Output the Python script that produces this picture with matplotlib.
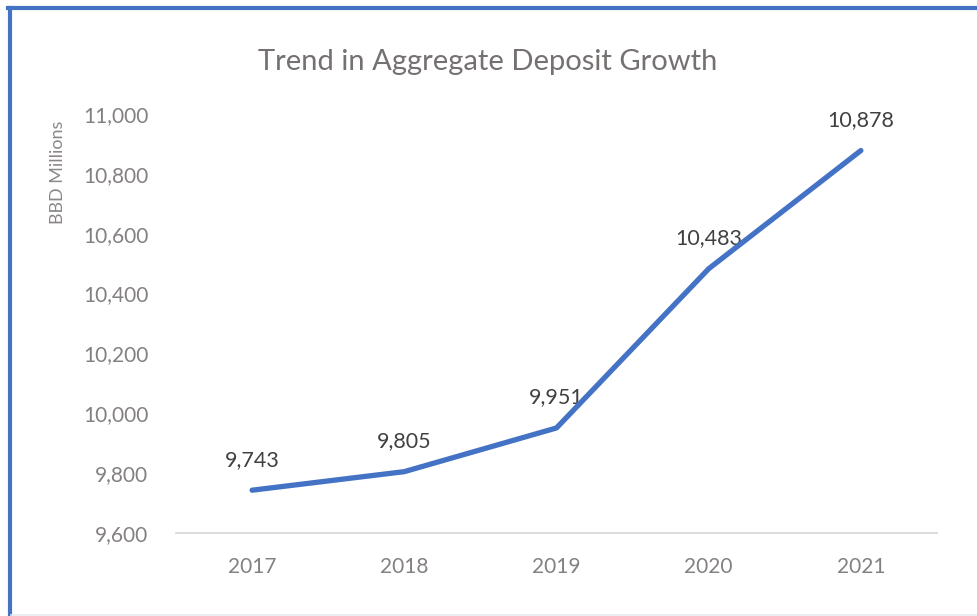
import matplotlib
matplotlib.use("Agg")
import matplotlib.pyplot as plt
from matplotlib.lines import Line2D
from matplotlib.ticker import FuncFormatter

years = ["2017", "2018", "2019", "2020", "2021"]
deposits = [9743, 9805, 9951, 10483, 10878]
yticks = [9600, 9800, 10000, 10200, 10400, 10600, 10800, 11000]

plt.rcParams['font.family'] = ['Lato', 'DejaVu Sans']

W, H = 977, 616
fig = plt.figure(figsize=(W / 100, H / 100), dpi=100)
fig.patch.set_facecolor('white')

ax = fig.add_axes([176 / W, 1 - 533 / H, (937 - 176) / W, (533 - 114) / H])
x = list(range(len(years)))
ax.plot(x, deposits, color='#4472C4', lw=3.8, solid_capstyle='round',
        solid_joinstyle='round', zorder=5)
for xi, v in zip(x, deposits):
    ax.annotate(f"{v:,}", (xi, v), xytext=(0, 22), textcoords='offset points',
                ha='center', va='center', fontsize=15.5, color='#404040', zorder=3)

ax.set_xlim(-0.5, len(years) - 0.5)
ax.set_ylim(9600, 11000)
ax.set_xticks(x)
ax.set_xticklabels(years)
ax.set_yticks(yticks)
ax.yaxis.set_major_formatter(FuncFormatter(lambda v, p: f"{int(v):,}"))
ax.tick_params(axis='both', length=0, labelsize=15, labelcolor='#858080')
ax.tick_params(axis='x', pad=17)
ax.tick_params(axis='y', pad=20)
for s in ['top', 'right', 'left']:
    ax.spines[s].set_visible(False)
ax.spines['bottom'].set_color('#d9d9d9')
ax.spines['bottom'].set_linewidth(1.3)

fig.text(488 / W, 1 - 62 / H, "Trend in Aggregate Deposit Growth", ha='center',
         va='center', fontsize=21, color='#767171')
fig.text(58 / W, 1 - 172 / H, "BBD Millions", rotation=90, ha='center',
         va='center', fontsize=13, color='#8c8787')

# border
fig.add_artist(Line2D([9.5 / W, 9.5 / W], [0, 1 - 8 / H], color='#4472C4', lw=3,
                      transform=fig.transFigure))
fig.add_artist(Line2D([8 / W, 1], [1 - 8 / H, 1 - 8 / H], color='#4472C4', lw=3,
                      transform=fig.transFigure))
fig.add_artist(Line2D([11 / W, 1], [1.5 / H, 1.5 / H], color='#e6ebf0', lw=1.2,
                      transform=fig.transFigure))

fig.savefig("out.png", dpi=100, facecolor='white')
